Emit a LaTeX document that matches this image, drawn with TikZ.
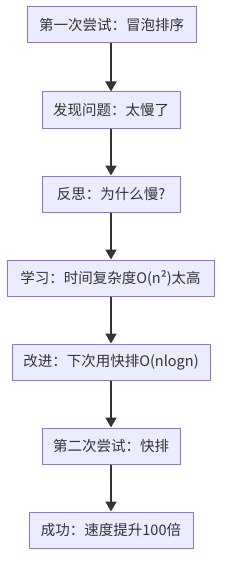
\documentclass[tikz,border=0pt]{standalone}
\usepackage{fontspec}
\setmainfont{Noto Sans CJK SC}
\usetikzlibrary{arrows.meta}
\definecolor{boxfill}{HTML}{ECECFF}
\definecolor{boxline}{HTML}{9370DB}
\definecolor{ink}{HTML}{333333}
\tikzset{
  stepbox/.style={draw=boxline, fill=boxfill, line width=1pt, minimum height=36pt,
    inner sep=0pt, text=ink, font=\fontsize{14.5}{17}\selectfont},
  flow/.style={draw=ink, line width=2pt, -{Triangle[length=10pt,width=11pt]}}
}
\begin{document}
\begin{tikzpicture}[x=1pt,y=-1pt]
\useasboundingbox (0,0) rectangle (230,575);
\node[stepbox, minimum width=169pt] (a) at (111.5,25) {第一次尝试：冒泡排序};
\node[stepbox, minimum width=138pt] (b) at (111,110) {发现问题：太慢了};
\node[stepbox, minimum width=138pt] (c) at (111,194) {反思：为什么慢?};
\node[stepbox, minimum width=207pt] (d) at (110.5,278) {学习：时间复杂度O(n²)太高};
\node[stepbox, minimum width=198pt] (e) at (111,362) {改进：下次用快排O(nlogn)};
\node[stepbox, minimum width=138pt] (f) at (111,446) {第二次尝试：快排};
\node[stepbox, minimum width=164pt] (g) at (111,530) {成功：速度提升100倍};
\draw[flow] (a.south -| 111,0) -- (b.north -| 111,0);
\draw[flow] (b) -- (c);
\draw[flow] (c) -- (d.north -| 111,0);
\draw[flow] (d.south -| 111,0) -- (e);
\draw[flow] (e) -- (f);
\draw[flow] (f) -- (g);
\end{tikzpicture}
\end{document}
